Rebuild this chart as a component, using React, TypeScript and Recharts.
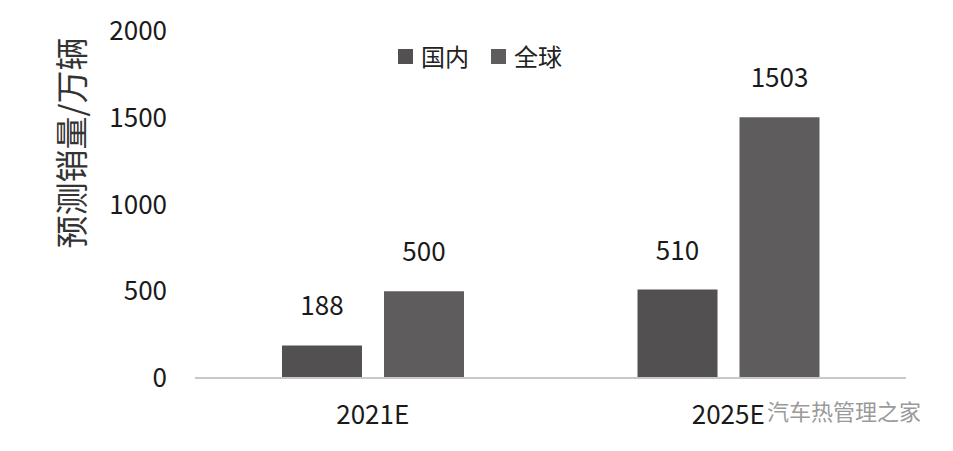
import React from 'react';
import { BarChart, Bar, XAxis, YAxis, LabelList } from 'recharts';

const categories = ['2021E', '2025E'];
const domestic = [188, 510];
const globalVals = [500, 1503];
const yTicks = [0, 500, 1000, 1500, 2000];
const seriesNames = ['国内', '全球'];
const colors = ['#525051', '#5f5c5d'];

const data = categories.map((c, i) => ({ name: c, domestic: domestic[i], global: globalVals[i] }));

const FONT = '"Noto Sans CJK SC", "Noto Sans", sans-serif';

const LegendBox = () => (
  <div
    style={{
      position: 'absolute',
      left: 398,
      top: 42,
      display: 'flex',
      alignItems: 'center',
      fontFamily: FONT,
      fontSize: 24,
      color: '#222',
    }}
  >
    {seriesNames.map((n, i) => (
      <div key={n} style={{ display: 'flex', alignItems: 'center', marginRight: i === 0 ? 22 : 0 }}>
        <span style={{ display: 'inline-block', width: 15, height: 15, background: colors[i], marginRight: 8 }} />
        <span style={{ lineHeight: '28px' }}>{n}</span>
      </div>
    ))}
  </div>
);

const YLabel = (props: any) => {
  const vb = props.viewBox || { x: 0, y: 0, width: 0, height: 0 };
  const cx = vb.x + 70;
  const cy = vb.y + 112;
  return (
    <text
      x={cx}
      y={cy}
      transform={`rotate(-90, ${cx}, ${cy})`}
      textAnchor="middle"
      dominantBaseline="central"
      fontFamily={FONT}
      fontSize={33}
      fill="#333"
    >
      预测销量/万辆
    </text>
  );
};

export default function App() {
  return (
    <div style={{ position: 'absolute', left: 0, top: 0, width: 953, height: 451, background: '#fff' }}>
      <BarChart
        width={953}
        height={451}
        data={data}
        margin={{ top: 31, right: 47, bottom: 0, left: 0 }}
        barSize={80}
        barGap={22}
      >
        <XAxis
          dataKey="name"
          axisLine={{ stroke: '#c8c8c8', strokeWidth: 2 }}
          tickLine={false}
          tickSize={0}
          tickMargin={28}
          tick={{ fontFamily: FONT, fontSize: 26, fill: '#1a1a1a' }}
          height={73}
        />
        <YAxis
          domain={[0, 2000]}
          ticks={yTicks}
          axisLine={false}
          tickLine={false}
          tickSize={0}
          tickMargin={28}
          width={195}
          interval={0}
          tick={{ fontFamily: FONT, fontSize: 26, fill: '#1a1a1a' }}
          label={<YLabel />}
        />
        <Bar dataKey="domestic" name={seriesNames[0]} fill={colors[0]} isAnimationActive={false}>
          <LabelList dataKey="domestic" position="top" offset={30} style={{ fontFamily: FONT, fontSize: 26, fill: '#1a1a1a' }} />
        </Bar>
        <Bar dataKey="global" name={seriesNames[1]} fill={colors[1]} isAnimationActive={false}>
          <LabelList dataKey="global" position="top" offset={30} style={{ fontFamily: FONT, fontSize: 26, fill: '#1a1a1a' }} />
        </Bar>
      </BarChart>
      <LegendBox />
      <div
        style={{
          position: 'absolute',
          left: 767,
          top: 396,
          fontFamily: FONT,
          fontSize: 22,
          color: '#9a9a9a',
          whiteSpace: 'nowrap',
          lineHeight: '28px',
        }}
      >
        汽车热管理之家
      </div>
    </div>
  );
}
